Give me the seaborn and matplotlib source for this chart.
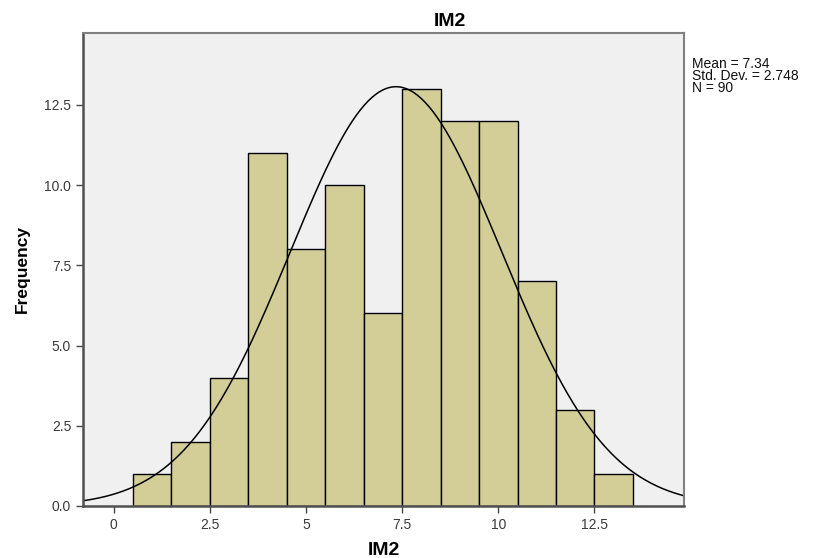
import numpy as np
import pandas as pd
import matplotlib
matplotlib.use("Agg")
import matplotlib.pyplot as plt
import seaborn as sns

centros = [1, 2, 3, 4, 5, 6, 7, 8, 9, 10, 11, 12, 13]
frequencias = [1, 2, 4, 11, 8, 10, 6, 13, 12, 12, 7, 3, 1]
media = 7.34
desvio = 2.748
n_total = 90

xticks = [0, 2.5, 5, 7.5, 10, 12.5]
xtick_labels = ["0", "2.5", "5", "7.5", "10", "12.5"]
yticks = [0, 2.5, 5, 7.5, 10, 12.5]
ytick_labels = ["0.0", "2.5", "5.0", "7.5", "10.0", "12.5"]

sns.set_style("white")
plt.rcParams['font.family'] = ['Liberation Sans', 'DejaVu Sans']

df = pd.DataFrame({'IM2': centros, 'freq': frequencias})

fig = plt.figure(figsize=(8.2, 5.58), dpi=100)
ax = fig.add_axes([0.1012, 0.0932, 0.7330, 0.8477])
ax.set_facecolor('#f0f0f0')

sns.histplot(data=df, x='IM2', weights='freq', binwidth=1, binrange=(0.5, 13.5),
             ax=ax, color='#d3ce97', edgecolor='black', linewidth=1.0, alpha=1)

# curva normal ajustada (média, desvio e N informados no gráfico)
xs = np.linspace(-0.8, 14.83, 300)
ys = n_total * 1.0 / (desvio * np.sqrt(2 * np.pi)) * np.exp(-0.5 * ((xs - media) / desvio) ** 2)
sns.lineplot(x=xs, y=ys, ax=ax, color='black', linewidth=1.1)

ax.set_xlim(-0.8, 14.83)
ax.set_ylim(0, 14.74)
ax.set_xticks(xticks)
ax.set_xticklabels(xtick_labels)
ax.set_yticks(yticks)
ax.set_yticklabels(ytick_labels)
ax.tick_params(axis='both', direction='out', length=5, width=1, colors='#444444',
               labelsize=10, labelcolor='#3a3a3a', bottom=True, left=True)

for lado in ['left', 'bottom']:
    ax.spines[lado].set_color('#505050')
    ax.spines[lado].set_linewidth(1.8)
for lado in ['top', 'right']:
    ax.spines[lado].set_color('#808080')
    ax.spines[lado].set_linewidth(1.5)

# título deslocado para a direita, como no SPSS
ax.set_title('IM2', fontsize=14, fontweight='bold', pad=5, x=0.61, color='black')
ax.set_xlabel('IM2', fontsize=14, fontweight='bold', labelpad=7, color='black')
ax.set_ylabel('Frequency', fontsize=12.5, fontweight='bold', labelpad=10, color='black')

fig.text(0.844, 0.898, f"Mean = {media}\nStd. Dev. = {desvio}\nN = {n_total}",
         fontsize=10, va='top', ha='left', linespacing=0.8, color='#111111')

plt.savefig('out.png', dpi=100)
